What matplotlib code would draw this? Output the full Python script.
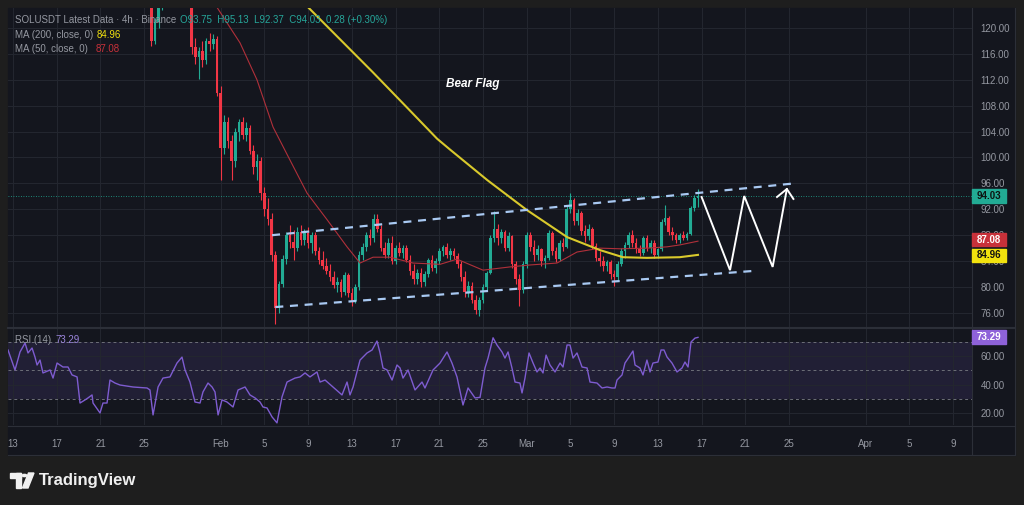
import numpy as np
import matplotlib
matplotlib.use('Agg')
import matplotlib.pyplot as plt
from matplotlib.patches import Rectangle, Circle, Polygon
from matplotlib.lines import Line2D

plt.rcParams['font.family'] = ['Liberation Sans', 'DejaVu Sans']

# ---------------- data ----------------
# time unit: days since 13 Jan; candles are 8h bars starting 25 Jan 00:00
start_day = 12.0
bar_days = 1.0 / 3.0
first_open = 127.0

close = [
    126.0, 125.0, 118.0,
    121.0, 123.5, 125.0,
    126.0, 127.0, 128.0,
    127.0, 128.0, 127.0,
    126.0, 117.0, 115.5,
    116.5, 115.0, 118.0,
    117.5, 118.3, 110.0,
    101.5, 105.5, 102.5,
    99.5, 104.0, 105.5,
    103.5, 104.5, 101.0,
    98.5, 99.5, 94.5,
    92.0, 90.5, 85.0,
    76.8, 80.5, 84.3,
    88.0, 87.0, 86.0,
    88.5, 87.2, 88.4,
    86.8, 88.0, 85.5,
    84.2, 83.3, 82.5,
    81.5, 80.3, 80.8,
    79.2, 81.8, 79.0,
    77.8, 80.0, 85.0,
    86.2, 88.0, 87.5,
    90.5, 89.0, 86.0,
    85.0, 86.8, 84.0,
    86.0, 85.3, 86.0,
    84.2, 82.5, 81.2,
    82.2, 80.8, 82.0,
    84.2, 83.0, 84.0,
    85.5, 86.2, 85.0,
    85.5, 84.8, 83.5,
    81.5, 79.2, 80.2,
    78.0, 76.5, 78.0,
    80.0, 82.2, 87.5,
    89.0, 87.5, 88.5,
    86.0, 87.8, 83.5,
    81.3, 79.5, 83.5,
    88.0, 86.2, 85.0,
    85.8, 84.0, 84.5,
    88.3, 85.6, 84.3,
    86.8, 86.2, 92.0,
    93.5, 90.2, 91.5,
    88.6, 87.8, 89.0,
    86.3, 84.5, 84.0,
    83.2, 83.8, 82.0,
    81.5, 83.6, 85.5,
    86.5, 88.0, 86.8,
    85.8, 85.2, 87.5,
    86.0, 86.8, 85.0,
    85.8, 90.0, 90.6,
    88.5, 88.0, 87.2,
    88.0, 87.6, 88.2,
    92.2, 93.75, 94.03,
]
high = [
    128.0, 127.0, 126.0,
    121.5, 124.5, 126.0,
    127.0, 128.0, 129.0,
    128.5, 129.0, 128.5,
    127.5, 127.0, 118.5,
    117.0, 118.0, 118.5,
    119.3, 119.0, 118.8,
    111.0, 106.5, 106.2,
    103.5, 104.5, 106.0,
    106.2, 105.5, 105.0,
    102.0, 100.5, 100.0,
    95.5, 93.8, 91.5,
    85.5, 81.0, 85.0,
    88.5, 89.5, 88.8,
    89.2, 89.5, 89.0,
    89.3, 88.5, 88.5,
    86.2, 85.5, 84.5,
    83.5, 82.5, 81.5,
    81.3, 82.3, 82.2,
    79.8, 80.5, 85.5,
    86.8, 88.5, 89.0,
    91.2, 91.2, 89.5,
    87.0, 87.5, 87.8,
    86.5, 87.0, 86.5,
    86.5, 85.0, 83.5,
    82.8, 83.0, 82.5,
    84.5, 85.0, 84.5,
    86.0, 86.5, 86.8,
    86.0, 86.0, 85.2,
    84.0, 82.5, 81.0,
    80.8, 78.8, 78.5,
    80.5, 82.5, 88.0,
    91.8, 89.8, 89.0,
    88.8, 88.5, 88.0,
    84.0, 82.0, 84.0,
    88.5, 88.5, 87.2,
    86.5, 86.0, 85.0,
    88.8, 88.6, 86.2,
    87.2, 87.5, 92.5,
    94.5, 93.8, 92.0,
    91.8, 89.5, 89.8,
    89.3, 86.8, 85.5,
    84.8, 84.2, 84.2,
    82.6, 84.0, 86.0,
    87.0, 88.5, 88.8,
    87.5, 86.5, 87.8,
    88.0, 87.2, 87.2,
    86.0, 90.5, 92.7,
    91.0, 89.2, 88.4,
    88.3, 88.6, 88.5,
    92.5, 94.2, 95.13,
]
low = [
    124.5, 124.0, 117.2,
    117.5, 120.0, 122.8,
    124.5, 125.5, 126.5,
    126.0, 126.5, 126.0,
    125.0, 116.0, 114.5,
    112.2, 114.0, 114.5,
    116.5, 116.8, 109.5,
    96.5, 100.5, 101.5,
    96.5, 98.5, 102.5,
    102.8, 102.5, 100.5,
    97.5, 96.5, 93.5,
    91.0, 89.5, 84.0,
    74.3, 76.0, 80.0,
    83.5, 86.0, 84.2,
    85.5, 86.5, 86.5,
    86.0, 85.2, 85.0,
    83.5, 82.8, 82.0,
    81.0, 79.8, 79.3,
    78.5, 78.8, 78.5,
    77.0, 77.5, 79.5,
    84.2, 85.5, 86.5,
    87.0, 88.5, 85.5,
    84.5, 84.5, 83.5,
    83.5, 84.8, 84.5,
    83.8, 81.8, 80.5,
    80.5, 80.0, 80.2,
    81.5, 82.5, 82.2,
    83.5, 84.8, 84.5,
    84.2, 84.3, 83.0,
    81.0, 78.5, 78.5,
    77.5, 75.8, 75.5,
    77.5, 79.5, 82.0,
    87.0, 86.5, 86.8,
    85.5, 85.5, 83.0,
    80.5, 77.0, 79.0,
    83.0, 85.5, 84.0,
    84.2, 83.2, 83.0,
    84.2, 85.0, 83.8,
    84.0, 85.5, 86.0,
    91.5, 89.5, 89.5,
    88.0, 87.0, 87.2,
    85.8, 84.0, 83.3,
    82.5, 82.5, 81.3,
    80.2, 81.0, 83.2,
    84.5, 86.0, 86.2,
    85.2, 84.8, 85.0,
    85.5, 85.3, 84.5,
    84.5, 85.5, 89.5,
    88.0, 87.3, 86.8,
    86.8, 87.2, 87.3,
    88.0, 91.8, 92.37,
]

ma200_day = [26.3, 27.0, 32.9, 36.0, 38.8, 40.0, 43.4, 47.0, 50.7, 53.7, 55.8, 58.0, 61.0, 62.67]
ma200_val = [124.3, 123.2, 113.2, 107.8, 102.9, 101.2, 96.5, 91.9, 87.7, 85.7, 84.6, 84.5, 84.6, 84.96]

ma50_day = [18.66, 20.77, 22.32, 23.79, 25.34, 26.90, 28.73, 30.56, 31.75, 32.94, 34.49, 36.60,
            39.07, 40.62, 43.00, 45.47, 47.30, 49.77, 51.60, 53.71, 55.54, 58.01, 59.84, 61.02, 62.67]
ma50_val = [123.2, 117.7, 112.0, 104.7, 99.6, 94.5, 90.4, 86.2, 83.7, 84.6, 84.6, 83.7,
            83.5, 84.3, 82.6, 83.1, 83.4, 83.7, 85.4, 86.0, 85.9, 86.0, 86.2, 86.5, 87.08]

rsi_day = [-0.46, 0.18, 0.64, 1.10, 1.37, 1.74, 2.01, 2.20, 2.47, 2.74, 3.39, 3.66, 4.03, 4.57,
           5.03, 5.40, 5.86, 6.13, 6.59, 6.86, 7.23, 7.32, 7.96, 8.23, 8.60, 8.87, 9.33, 9.79,
           10.98, 12.26, 12.53, 12.81, 13.27, 13.72, 14.36, 15.00, 15.46, 15.74, 16.19, 16.65,
           17.11, 17.38, 17.84, 18.21, 18.48, 18.76, 19.12, 19.58, 20.13, 20.59, 21.23, 21.68,
           22.14, 22.60, 22.87, 23.24, 23.70, 24.15, 24.61, 25.07, 25.80, 26.26, 26.72, 27.17,
           27.81, 28.09, 28.55, 29.28, 30.10, 30.56, 30.83, 31.11, 31.75, 32.39, 32.85, 33.30,
           33.58, 33.85, 34.22, 34.68, 35.13, 35.41, 35.68, 36.14, 36.78, 37.42, 37.69, 38.43,
           39.07, 39.71, 40.16, 40.62, 41.17, 41.63, 42.27, 42.73, 43.18, 43.46, 43.92, 44.28,
           44.74, 45.01, 45.29, 45.65, 45.93, 46.38, 46.57, 46.84, 47.21, 47.58, 47.94, 48.22,
           48.49, 48.77, 49.13, 49.59, 50.05, 50.32, 50.69, 50.96, 51.24, 51.60, 52.06, 52.52,
           52.79, 53.43, 53.89, 54.35, 54.80, 55.08, 55.26, 55.72, 55.99, 56.36, 56.72, 56.91,
           57.36, 57.64, 58.00, 58.28, 58.55, 59.01, 59.29, 59.56, 59.84, 60.29, 60.75, 61.21,
           61.48, 61.76, 62.03, 62.40, 62.67]
rsi_val = [64.4, 50.3, 63.0, 69.3, 62.3, 65.8, 59.4, 53.8, 57.3, 48.2, 50.3, 44.6, 55.2, 52.4,
           52.4, 46.8, 45.4, 27.0, 29.2, 30.6, 32.7, 27.0, 20.0, 27.0, 27.0, 43.2, 41.1, 39.7,
           38.3, 37.6, 36.2, 18.6, 38.3, 44.6, 45.4, 55.2, 59.4, 50.3, 41.8, 27.7,
           27.0, 34.8, 41.1, 38.3, 34.8, 18.6, 29.2, 27.7, 24.2, 36.2, 38.3, 32.7,
           30.6, 27.7, 24.2, 23.5, 17.2, 13.0, 31.3, 41.8, 44.6, 45.4, 48.2, 45.4,
           48.9, 41.8, 43.2, 38.3, 32.7, 41.8, 32.7, 38.3, 57.3, 62.3, 64.4, 70.7,
           62.3, 51.7, 50.3, 43.2, 53.8, 51.7, 44.6, 50.3, 36.2, 41.8, 37.6, 50.3,
           55.2, 63.0, 55.2, 45.4, 25.6, 37.6, 30.6, 31.0, 51.7, 58.7, 73.0, 67.9,
           63.0, 58.7, 63.0, 51.7, 41.8, 41.1, 34.1, 44.6, 62.3, 55.2, 48.9, 51.7,
           48.2, 60.8, 53.8, 48.9, 55.2, 52.4, 67.9, 67.9, 58.7, 62.3, 52.4, 51.7,
           41.8, 41.1, 37.6, 38.3, 37.6, 37.6, 43.2, 46.8, 55.2, 59.4, 63.7, 53.8,
           51.7, 46.8, 57.3, 48.9, 55.2, 55.9, 64.4, 64.4, 59.4, 55.2, 48.9, 51.7,
           55.9, 52.4, 70.0, 72.8, 73.29]

channel_upper_day = [23.7, 71.5]
channel_upper_val = [88.0, 96.0]
channel_lower_day = [24.0, 67.9]
channel_lower_val = [76.9, 82.5]
zigzag_day = [63.0, 65.6, 66.9, 69.5, 70.8]
zigzag_val = [93.9, 82.6, 94.05, 83.1, 95.13]
arrow_day = [69.9, 70.8, 71.4]
arrow_val = [93.9, 95.13, 93.6]

tick_days = [0, 4, 8, 12, 19, 23, 27, 31, 35, 39, 43, 47, 51, 55, 59, 63, 67, 71, 78, 82, 86]
tick_labels = ["13", "17", "21", "25", "Feb", "5", "9", "13", "17", "21", "25",
               "Mar", "5", "9", "13", "17", "21", "25", "Apr", "5", "9"]
price_ticks = [76, 80, 84, 88, 92, 96, 100, 104, 108, 112, 116, 120]
rsi_ticks = [20, 40, 60]
rsi_levels = [70, 50, 30]

last_open, last_high, last_low, last_close = 93.75, 95.13, 92.37, 94.03
ma200_last = 84.96
ma50_last = 87.08
rsi_last = 73.29

# ---------------- style ----------------
W, H = 1024, 505
FRAME = '#1e1e1e'
BG = '#14161e'
GRID = '#23262f'
SEP = '#2c2f38'
TXT = '#9598a1'
UP = '#22ab94'
DN = '#f23645'
YEL = '#d9c92c'
MARED = '#b0303a'
CHAN = '#a9c9f2'
PURP = '#7e5cd0'


def fx(x):
    return x / W


def fy(y):
    return 1 - y / H


fig = plt.figure(figsize=(W / 100, H / 100), dpi=100, facecolor=FRAME)
fig.patches.append(Rectangle((fx(8), fy(455)), (1015 - 8) / W, (455 - 8) / H,
                             transform=fig.transFigure, color=BG, zorder=-5))

x_lo, x_hi = -0.46, 87.74
ax = fig.add_axes([fx(8), fy(327), 964 / W, 319 / H])
axr = fig.add_axes([fx(8), fy(425), 964 / W, 96 / H])
for a in (ax, axr):
    a.set_facecolor(BG)
    for s in a.spines.values():
        s.set_visible(False)
    a.set_xlim(x_lo, x_hi)
    a.set_xticks(tick_days)
    a.grid(True, color=GRID, lw=0.8)
    a.set_axisbelow(True)

ax.set_ylim(73.82, 123.09)
axr.set_ylim(11.5, 79.2)

# price axis
ax.yaxis.tick_right()
ax.set_yticks(price_ticks)
ax.set_yticklabels([f"{v:.2f}" for v in price_ticks])
ax.tick_params(axis='y', length=0, pad=6, labelsize=7, labelcolor=TXT)
ax.tick_params(axis='x', length=0, labelbottom=False)

axr.yaxis.tick_right()
axr.set_yticks(rsi_ticks)
axr.set_yticklabels([f"{v:.2f}" for v in rsi_ticks])
axr.tick_params(axis='y', length=0, pad=6, labelsize=7, labelcolor=TXT)
axr.set_xticks(tick_days)
axr.set_xticklabels(tick_labels)
axr.tick_params(axis='x', length=0, pad=10, labelsize=7, labelcolor=TXT)

# candles
c = np.array(close)
o = np.concatenate([[first_open], c[:-1]])
hgh = np.maximum(np.array(high), np.maximum(o, c))
lw_ = np.minimum(np.array(low), np.minimum(o, c))
t = start_day + np.arange(len(c)) * bar_days
cols = [UP if cc >= oo else DN for oo, cc in zip(o, c)]
ax.vlines(t, lw_, hgh, colors=cols, lw=0.8, zorder=2)
body_b = np.minimum(o, c)
body_h = np.maximum(np.abs(c - o), 0.12)
ax.bar(t, body_h, bottom=body_b, width=0.24, color=cols, lw=0, zorder=3)

# moving averages
ax.plot(ma50_day, ma50_val, color=MARED, lw=0.8, zorder=4)
ax.plot(ma200_day, ma200_val, color=YEL, lw=1.5, zorder=4)

# last price dotted line
ax.axhline(last_close, color=UP, lw=0.6, ls=(0, (1, 2)), zorder=1)

# channel + projection
ax.plot(channel_upper_day, channel_upper_val, color=CHAN, lw=1.6, ls=(0, (3.6, 3.0)), zorder=5)
ax.plot(channel_lower_day, channel_lower_val, color=CHAN, lw=1.6, ls=(0, (3.6, 3.0)), zorder=5)
ax.plot(zigzag_day, zigzag_val, color='white', lw=1.4, zorder=6, solid_joinstyle='miter')
ax.plot(arrow_day, arrow_val, color='white', lw=1.4, zorder=6)

ax.text(42.1, 111.35, "Bear Flag", color='white', fontsize=8.5, fontweight='bold',
        fontstyle='italic', ha='center', va='center', zorder=7)

# RSI pane
axr.axhspan(30, 70, color=PURP, alpha=0.13, lw=0, zorder=0.5)
for lv in rsi_levels:
    axr.axhline(lv, color='#6d6f78', lw=0.7, ls=(0, (3, 3)), zorder=1)
axr.plot(rsi_day, rsi_val, color=PURP, lw=1.0, zorder=3)

# separators
fig.add_artist(Line2D([fx(8), fx(1015)], [fy(328), fy(328)], color=SEP, lw=1.5))
fig.add_artist(Line2D([fx(8), fx(1015)], [fy(425.5), fy(425.5)], color=SEP, lw=0.8))
fig.add_artist(Line2D([fx(972), fx(972)], [fy(8), fy(455)], color=SEP, lw=0.8))
fig.add_artist(Line2D([fx(1015), fx(1015)], [fy(8), fy(455)], color=SEP, lw=0.8))
fig.add_artist(Line2D([fx(8), fx(1015)], [fy(455), fy(455)], color=SEP, lw=0.8))


# price tags on axis
def tag(ycen, text, bg, fg, h=13):
    fig.patches.append(Rectangle((fx(972), fy(ycen + h / 2)), 34 / W, h / H,
                                 transform=fig.transFigure, color=bg, zorder=10))
    fig.text(fx(989), fy(ycen), text, color=fg, fontsize=7, fontweight='bold',
             ha='center', va='center', zorder=11)


def price_to_y(p):
    return 28 + (120 - p) * 6.475


def rsi_to_y(r):
    return 342 - (r - 70) * 1.42


tag(price_to_y(last_close), f"{last_close:.2f}", '#22ab94', '#0d1512', h=14)
tag(price_to_y(ma50_last) - 1.5, f"{ma50_last:.2f}", '#c8313a', 'white')
tag(price_to_y(ma200_last) + 0.5, f"{ma200_last:.2f}", '#f2e20e', '#111111')
tag(rsi_to_y(rsi_last), f"{rsi_last:.2f}", '#8e62d9', 'white', h=14)

# header legend
fs = 7
fig.text(fx(15), fy(20), "SOLUSDT Latest Data · 4h · Binance", color=TXT, fontsize=fs, va='center')
fig.text(fx(180), fy(20),
         f"O{last_open:.2f}  H{last_high:.2f}  L{last_low:.2f}  C{last_close:.2f}  0.28 (+0.30%)",
         color='#26a69a', fontsize=fs, va='center')
fig.text(fx(15), fy(34.5), "MA (200, close, 0)", color=TXT, fontsize=fs, va='center')
fig.text(fx(97), fy(34.5), f"{ma200_last:.2f}", color='#f2e20e', fontsize=fs, va='center')
fig.text(fx(15), fy(49), "MA (50, close, 0)", color=TXT, fontsize=fs, va='center')
fig.text(fx(96), fy(49), f"{ma50_last:.2f}", color='#c8313a', fontsize=fs, va='center')
fig.text(fx(15), fy(340), "RSI (14)", color=TXT, fontsize=fs, va='center')
fig.text(fx(55), fy(340), f"{rsi_last:.2f}", color='#9c86de', fontsize=fs, va='center')

# TradingView logo
LOGO = '#f0f0f0'
fig.patches.append(Rectangle((fx(10), fy(477.5)), 11 / W, 4.5 / H, transform=fig.transFigure,
                             color=LOGO, zorder=5))
fig.patches.append(Rectangle((fx(15.5), fy(488)), 5.5 / W, 15 / H, transform=fig.transFigure,
                             color=LOGO, zorder=5))
fig.patches.append(Circle((fx(24.5), fy(475.5)), 2.3 / W, transform=fig.transFigure,
                          color=LOGO, zorder=5))
fig.patches.append(Polygon([(fx(28.5), fy(473)), (fx(34), fy(473)), (fx(28), fy(488)),
                            (fx(22.5), fy(488))], closed=True, transform=fig.transFigure,
                           color=LOGO, zorder=5))
fig.text(fx(39), fy(481), "TradingView", color=LOGO, fontsize=12, fontweight='bold',
         va='center', ha='left')

fig.savefig('out.png', dpi=100, facecolor=FRAME)
